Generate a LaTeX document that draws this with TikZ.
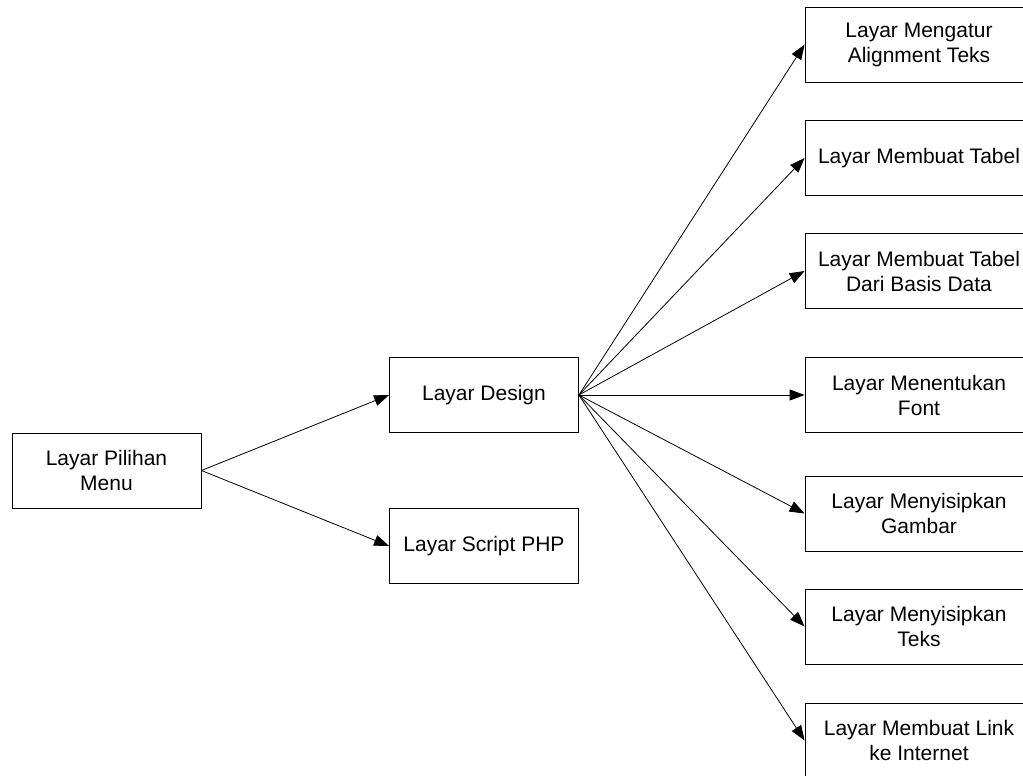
\documentclass[tikz,border=0pt]{standalone}
\usepackage{fontspec}
\setmainfont{Liberation Sans}
\usetikzlibrary{positioning}
\usetikzlibrary{arrows.meta}
\tikzset{layar/.style={draw, line width=0.8pt, minimum width=189pt, minimum height=75pt,
    align=center, inner sep=2pt, font=\fontsize{21}{25}\selectfont},
  sublayar/.style={layar, minimum width=228pt},
  panah/.style={-{Triangle[length=15pt,width=11pt]}, line width=0.8pt}}

\begin{document}
\begin{tikzpicture}[x=1pt,y=-1pt]
    \useasboundingbox (0,0) rectangle (1023,776);
    \path (106.5,470.5) node[layar] (menu) {Layar Pilihan\\Menu}
     ++ (377.5,-75.5) node[layar] (design) {Layar Design}
     ++ (0,151) node[layar] (php) {Layar Script PHP};
    \path (919,44.5) node[sublayar] (align) {Layar Mengatur\\Alignment Teks}
     ++ (0,113.5) node[sublayar] (tabel) {Layar Membuat Tabel}
     ++ (0,113) node[sublayar] (basis) {Layar Membuat Tabel\\Dari Basis Data}
     ++ (0,124) node[sublayar] (font) {Layar Menentukan\\Font}
     ++ (0,118.5) node[sublayar] (gambar) {Layar Menyisipkan\\Gambar}
     ++ (0,113) node[sublayar] (teks) {Layar Menyisipkan\\Teks}
     ++ (0,114) node[sublayar] (link) {Layar Membuat Link\\ke Internet};
    \draw[panah] (menu.east) -- (design.west);
    \draw[panah] (menu.east) -- (php.west);
    \foreach \n in {align,tabel,basis,font,gambar,teks,link}
      \draw[panah] (design.east) -- (\n.west);
\end{tikzpicture}
\end{document}
